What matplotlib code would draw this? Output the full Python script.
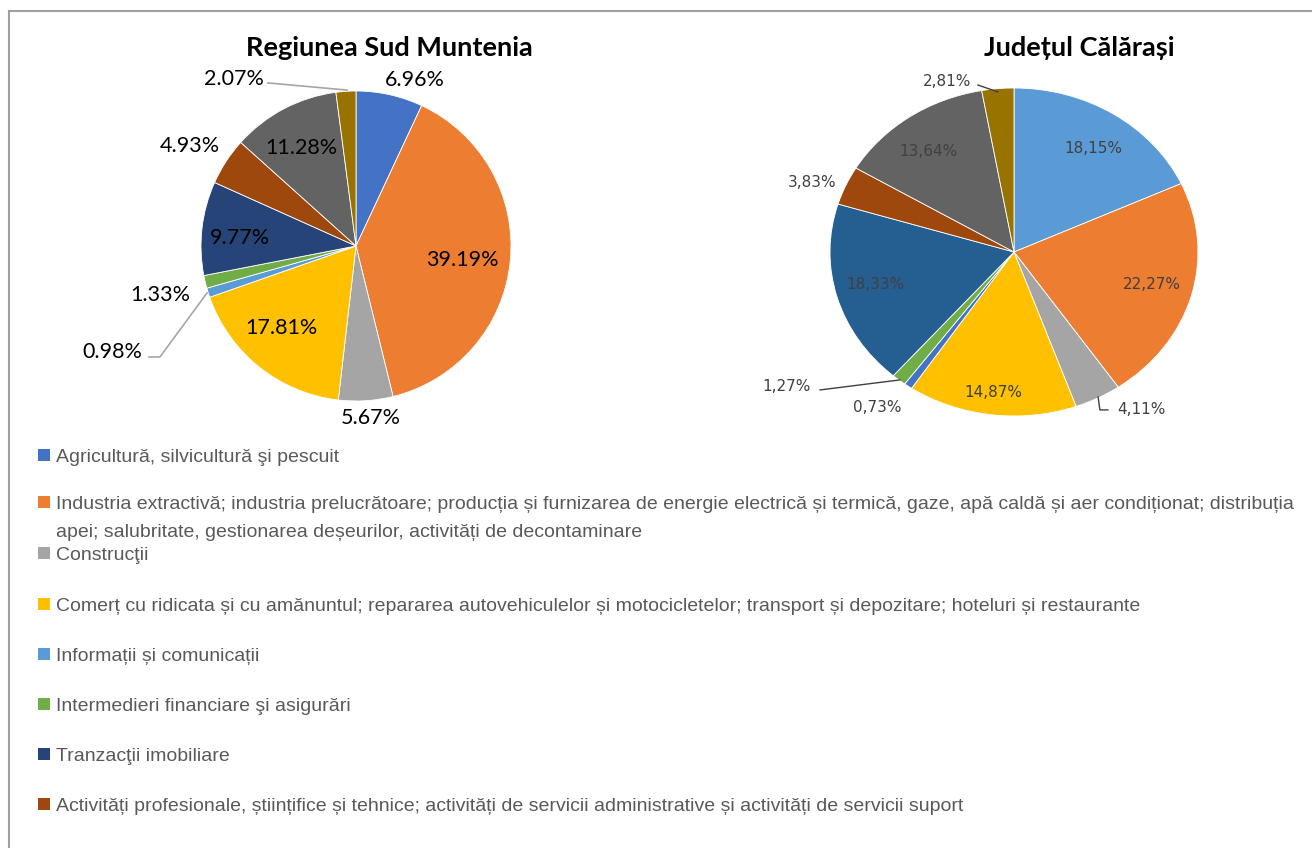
import matplotlib.pyplot as plt
from matplotlib import font_manager
from matplotlib.patches import Rectangle
from matplotlib.lines import Line2D

# data
region_title = "Regiunea Sud Muntenia"
county_title = "Județul Călărași"

region_share = [6.96, 39.19, 5.67, 17.81, 0.98, 1.33, 9.77, 4.93, 11.28, 2.07]
county_share = [18.15, 22.27, 4.11, 14.87, 0.73, 1.27, 18.33, 3.83, 13.64, 2.81]

region_colors = ["#4472C4", "#ED7D31", "#A5A5A5", "#FFC000", "#5B9BD5",
                 "#70AD47", "#264478", "#9E480E", "#636363", "#997300"]
county_colors = ["#5B9BD5", "#ED7D31", "#A5A5A5", "#FFC000", "#4472C4",
                 "#70AD47", "#255E91", "#9E480E", "#636363", "#997300"]

legend_labels = [
    "Agricultură, silvicultură şi pescuit",
    "Industria extractivă; industria prelucrătoare; producția și furnizarea de energie electrică și termică, gaze, apă caldă și aer condiționat; distribuția\napei; salubritate, gestionarea deșeurilor, activități de decontaminare",
    "Construcţii",
    "Comerț cu ridicata și cu amănuntul; repararea autovehiculelor și motocicletelor; transport și depozitare; hoteluri și restaurante",
    "Informații și comunicații",
    "Intermedieri financiare şi asigurări",
    "Tranzacţii imobiliare",
    "Activități profesionale, științifice și tehnice; activități de servicii administrative și activități de servicii suport",
]

# label placement (pie units), one per slice
region_label_pos = [(0.38, 1.07), (0.684, -0.09), (0.097, -1.11), (-0.478, -0.529),
                    (-1.574, -0.684), (-1.265, -0.316), (-0.748, 0.052), (-1.071, 0.645),
                    (-0.355, 0.632), (-0.787, 1.077)]
county_label_pos = [(0.429, 0.634), (0.75, -0.201), (0.69, -0.963), (-0.114, -0.854),
                    (-0.745, -0.951), (-1.234, -0.823), (-0.755, -0.201), (-1.098, 0.421),
                    (-0.467, 0.61), (-0.364, 1.037)]

W, H = 1312, 848
fig = plt.figure(figsize=(W / 100, H / 100), dpi=100)
fig.patch.set_facecolor("white")

# outer frame
fig.add_artist(Line2D([9 / W, 9 / W], [0, 1 - 11 / H], color="#A0A0A0", lw=1.5))
fig.add_artist(Line2D([9 / W, 1], [1 - 11 / H, 1 - 11 / H], color="#A0A0A0", lw=1.5))


def pie_axes(cx, cy, rx, ry):
    return fig.add_axes([(cx - rx) / W, 1 - (cy + ry) / H, 2 * rx / W, 2 * ry / H])


def draw_pie(ax, values, colors):
    ax.pie(values, colors=colors, startangle=90, counterclock=False, radius=1,
           wedgeprops=dict(edgecolor="white", linewidth=0.6))
    ax.set_aspect("auto")
    ax.set_xlim(-1, 1)
    ax.set_ylim(-1, 1)
    ax.axis("off")


# left pie
axl = pie_axes(356, 246, 155, 155)
draw_pie(axl, region_share, region_colors)
for v, (x, y) in zip(region_share, region_label_pos):
    axl.text(x, y, f"{v:.2f}%", ha="center", va="center", fontsize=15.5,
             family="Lato", color="black", clip_on=False)
# leader lines
axl.plot([-1.335, -1.265, -0.961], [-0.716, -0.716, -0.303], color="#A6A6A6", lw=1.2, clip_on=False)
axl.plot([-0.568, -0.058], [1.052, 1.006], color="#A6A6A6", lw=1.2, clip_on=False)
fig.text(389 / W, 1 - 48 / H, region_title, ha="center", va="center",
         fontsize=19.5, fontweight="bold", family="Lato")

# right pie
axr = pie_axes(1014, 252, 184, 164)
draw_pie(axr, county_share, county_colors)
for v, (x, y) in zip(county_share, county_label_pos):
    axr.text(x, y, f"{v:.2f}%".replace(".", ","), ha="center", va="center",
             fontsize=11, family="DejaVu Sans", color="#404040", clip_on=False)
axr.plot([-1.054, -0.62], [-0.841, -0.78], color="#404040", lw=1.0, clip_on=False)
axr.plot([-0.196, -0.087], [1.018, 0.976], color="#404040", lw=1.0, clip_on=False)
axr.plot([0.457, 0.467, 0.51], [-0.884, -0.963, -0.963], color="#404040", lw=1.0, clip_on=False)
fig.text(1079 / W, 1 - 48 / H, county_title, ha="center", va="center",
         fontsize=19.5, fontweight="bold", family="Lato")

# legend
installed = {f.name for f in font_manager.fontManager.ttflist}
if "Liberation Sans Narrow" in installed:
    leg_font, leg_size = "Liberation Sans Narrow", 16
else:
    leg_font, leg_size = "Liberation Sans", 14

leg_y = [455, 502, 553, 604, 654, 704, 754, 804]
for lab, col, y in zip(legend_labels, region_colors, leg_y):
    fig.add_artist(Rectangle((38 / W, 1 - (y + 6) / H), 12 / W, 12 / H,
                             facecolor=col, edgecolor="none"))
    for i, line in enumerate(lab.split("\n")):
        fig.text(56 / W, 1 - (y + 7 + 28 * i) / H, line, ha="left", va="baseline",
                 fontsize=leg_size, family=leg_font, color="#595959")

fig.savefig("out.png", dpi=100, facecolor="white")
